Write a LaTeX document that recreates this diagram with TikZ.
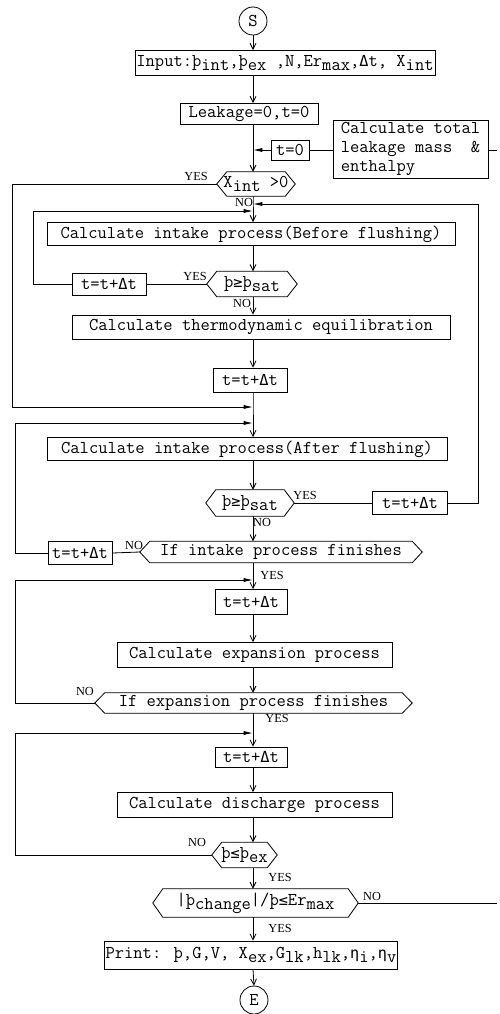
\documentclass[tikz,border=0pt]{standalone}
\usepackage{fontspec}
\newfontfamily\labfont{Liberation Serif}
\newfontfamily\symf{DejaVu Sans Mono}
\usetikzlibrary{arrows.meta,calc}
\newcommand\sbx[1]{\raisebox{-0.5ex}{#1}}
\newcommand\sy[1]{{\symf\fontsize{13}{16}\selectfont #1}}
\newcommand\hexa[1]{\draw[line] (#1.west) -- ([xshift=0.3cm]#1.north west) -- ([xshift=-0.3cm]#1.north east) -- (#1.east) -- ([xshift=-0.3cm]#1.south east) -- ([xshift=0.3cm]#1.south west) -- cycle;}
\begin{document}
\begin{tikzpicture}[x=0.03cm,y=-0.03cm,
  line/.style={line width=0.7pt},
  txt/.style={font=\ttfamily\fontsize{15.4}{16.5}\selectfont},
  box/.style 2 args={txt, draw, line width=0.7pt, inner sep=1pt, minimum width=#1*0.03cm, minimum height=#2*0.03cm},
  dec/.style 2 args={txt, inner sep=0pt, minimum width=#1*0.03cm, minimum height=#2*0.03cm},
  term/.style={txt, draw, circle, line width=0.7pt, minimum size=28*0.03cm, inner sep=0pt},
  lab/.style={font=\labfont\fontsize{10.5}{11}\selectfont, inner sep=0pt},
  arr/.style={line width=0.7pt, -{Straight Barb[length=5pt,width=5pt]}},
  marr/.style={line width=0.7pt, -{Latex[length=8pt,width=3.5pt]}}]
\useasboundingbox (0,0) rectangle (499,1014);
\coordinate (m) at (253,0);

% nodes
\node[term] (S) at (253,21) {S};
\node[box={300}{25}] (inp) at (285,63) {Input:þ\sbx{int},þ\sbx{ex} ,N,Er\sbx{max},\sy{Δ}t, X\sbx{int}};
\node[box={138}{21}] (leak) at (249,114) {Leakage=0,t=0};
\node[box={38}{20}] (t0) at (290,150) {t=0};
\node[box={155}{58}, align=left] (tot) at (410.5,149) {Calculate total\\leakage mass \ \&\\enthalpy};
\node[dec={78}{24}] (dx) at (256,184) {X\sbx{int} >0};
\node[box={408}{23}] (bf) at (251,234) {Calculate intake process(Before flushing)};
\node[dec={90}{25}] (d1) at (252,284) {þ\sy{≥}þ\sbx{sat}};
\node[box={74}{22}] (tA) at (109,284) {t=t+\sy{Δ}t};
\node[box={378}{24}] (th) at (261,327) {Calculate thermodynamic equilibration};
\node[box={74}{24}] (tB) at (250,380) {t=t+\sy{Δ}t};
\node[box={400}{23}] (af) at (247,449) {Calculate intake process(After flushing)};
\node[dec={88}{26}] (d2) at (250,503) {þ\sy{≥}þ\sbx{sat}};
\node[box={75}{23}] (tC) at (410,503) {t=t+\sy{Δ}t};
\node[dec={282}{21}] (d3) at (281,552) {If intake process finishes};
\node[box={64}{23}] (tD) at (80,553) {t=t+\sy{Δ}t};
\node[box={72}{25}] (tE) at (251,602) {t=t+\sy{Δ}t};
\node[box={275}{25}] (ex) at (254.5,655) {Calculate expansion process};
\node[dec={317}{20}] (d4) at (253.5,703) {If expansion process finishes};
\node[box={72}{20}] (tF) at (251,757) {t=t+\sy{Δ}t};
\node[box={275}{25}] (dis) at (254.5,805) {Calculate discharge process};
\node[dec={65}{25}] (d5) at (244.5,855) {þ\sy{≤}þ\sbx{ex}};
\node[dec={205}{28}] (d6) at (255.5,903) {|þ\sbx{change}|/þ\sy{≤}Er\sbx{max}};
\node[box={268}{28}] (pr) at (251,955) {Print: þ,G,V, X\sbx{ex},G\sbx{lk},h\sbx{lk},\sy{η}\sbx{i},\sy{η}\sbx{v}};
\node[term] (E) at (254,1000) {E};
\hexa{dx}\hexa{d1}\hexa{d2}\hexa{d3}\hexa{d4}\hexa{d5}\hexa{d6}

% labels
\node[lab] (l1) at (196,176) {YES};
\node[lab] (l2) at (244,202) {NO};
\node[lab] (l3) at (195,276) {YES};
\node[lab] (l4) at (242,303) {NO};
\node[lab] (l5) at (305,495) {YES};
\node[lab] (l6) at (262,522) {NO};
\node[lab] (l7) at (134,545) {NO};
\node[lab] (l8) at (272,575) {YES};
\node[lab] (l9) at (85,691) {NO};
\node[lab] (l10) at (277,718) {YES};
\node[lab] (l11) at (197,842) {NO};
\node[lab] (l12) at (280,877) {YES};
\node[lab] (l13) at (372,896) {NO};
\node[lab] (l14) at (280,928) {YES};

% junction coordinates
\coordinate (j0) at (253,150);
\coordinate (jR) at (253,204);
\coordinate (jL) at (253,211);
\coordinate (j1) at (253,407);
\coordinate (j2) at (253,423);
\coordinate (j3) at (253,580);
\coordinate (j4) at (253,733);
\coordinate (cR) at (497,150);
\coordinate (cR2) at (497,903);

% main flow
\draw[arr] (S.south) -- (m |- inp.north);
\draw[arr] (m |- inp.south) -- (m |- leak.north);
\draw[line] (m |- leak.south) -- (j0);
\draw[arr] (j0) -- (m |- dx.north);
\draw[marr] (t0.west) -- (j0);
\draw[line] (t0.east) -- (tot.west |- t0.east);
\draw[line] (tot.east |- cR) -- (cR);
\draw[line] (m |- dx.south) -- (jR) -- (jL);
\draw[arr] (jL) -- (m |- bf.north);
\draw[arr] (m |- bf.south) -- (m |- d1.north);
\draw[line] (d1.west) -- (tA.east);
\draw[line] (tA.west) -- (33,284) -- (33,211);
\draw[marr] (33,211) -- (jL);
\draw[arr] (m |- d1.south) -- (m |- th.north);
\draw[arr] (m |- th.south) -- (m |- tB.north);
\draw[line] (m |- tB.south) -- (j1) -- (j2);
\draw[line] (dx.west) -- (12,184) -- (12,407);
\draw[marr] (12,407) -- (j1);
\draw[arr] (j2) -- (m |- af.north);
\draw[arr] (m |- af.south) -- (m |- d2.north);
\draw[line] (d2.east) -- (tC.west);
\draw[line] (tC.east) -- (478,503) -- (478,204);
\draw[marr] (478,204) -- (jR);
\draw[arr] (m |- d2.south) -- (m |- d3.north);
\draw[line] (d3.west) -- (tD.east);
\draw[line] (tD.west) -- (15,553) -- (15,423);
\draw[marr] (15,423) -- (j2);
\draw[line] (m |- d3.south) -- (j3);
\draw[arr] (j3) -- (m |- tE.north);
\draw[arr] (m |- tE.south) -- (m |- ex.north);
\draw[arr] (m |- ex.south) -- (m |- d4.north);
\draw[line] (d4.west) -- (15,703) -- (15,580);
\draw[marr] (15,580) -- (j3);
\draw[line] (m |- d4.south) -- (j4);
\draw[arr] (j4) -- (m |- tF.north);
\draw[arr] (m |- tF.south) -- (m |- dis.north);
\draw[arr] (m |- dis.south) -- (m |- d5.north);
\draw[line] (d5.west) -- (15,855) -- (15,733);
\draw[marr] (15,733) -- (j4);
\draw[arr] (m |- d5.south) -- (m |- d6.north);
\draw[line] (d6.east) -- (cR2);
\draw[arr] (m |- d6.south) -- (m |- pr.north);
\draw[arr] (m |- pr.south) -- (E.north);
\end{tikzpicture}
\end{document}
